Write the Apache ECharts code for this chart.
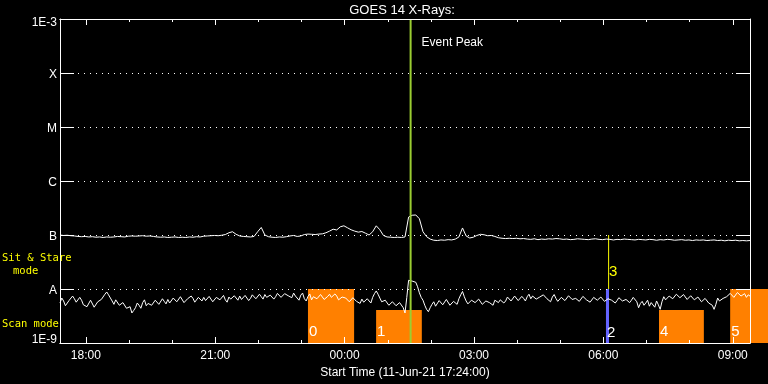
<!DOCTYPE html>
<html><head><meta charset="utf-8">
<script src="https://cdn.jsdelivr.net/npm/echarts@6/dist/echarts.min.js"></script>
<style>html,body{margin:0;padding:0;background:#000}#c{width:768px;height:384px}</style>
</head><body><div id="c"></div>
<script>
// ---------- DATA ----------
const chartTitle = 'GOES 14 X-Rays:';
const xAxisTitle = 'Start Time (11-Jun-21 17:24:00)';
const startHour = 17.4;      // 17:24 on 11-Jun
const endHour = 33.4;        // 09:24 on 12-Jun
const longStepMinutes = 5;
const shortStepMinutes = 2.5;
const xMajorTicks = [18, 21, 24, 27, 30, 33];
const xMinorTicks = [19, 20, 22, 23, 25, 26, 28, 29, 31, 32];
const yTickValues = [-9, -8, -7, -6, -5, -4, -3];           // log10 W/m^2
const yTickLabels = ['1E-9', 'A', 'B', 'C', 'M', 'X', '1E-3'];

// long channel (1-8 A), units of 1e-8 W/m^2, one value every 5 min from 17:24
const longChannel = [
 10.0, 9.8, 9.9, 9.7, 9.6, 9.4, 9.3, 9.4, 9.2, 9.3,
 9.1, 9.2, 9.0, 9.2, 9.1, 9.2, 9.4, 9.3, 9.2, 9.5,
 9.6, 9.5, 9.6, 9.7, 9.5, 9.6, 9.4, 9.2, 9.1, 9.2,
 9.0, 9.1, 9.2, 9.0, 9.1, 9.0, 9.2, 9.1, 9.3, 9.2,
 9.5, 9.6, 9.7, 9.8, 9.7, 9.9, 10.2, 11.0, 11.5, 10.3,
 9.6, 9.4, 9.3, 9.2, 9.4, 11.5, 13.8, 10.0, 9.3, 9.1,
 9.0, 9.2, 9.1, 9.3, 9.6, 9.8, 9.4, 9.6, 10.2, 10.4,
 10.3, 10.2, 10.4, 10.5, 11.0, 11.8, 12.8, 12.4, 14.2, 14.8,
 13.6, 12.5, 11.8, 11.3, 11.6, 10.8, 10.0, 11.5, 14.8, 12.5,
 9.8, 9.2, 9.1, 9.0, 9.1, 9.0, 9.2, 21.5, 23.2, 23.5,
 20.0, 11.5, 9.3, 8.4, 8.0, 7.9, 8.1, 8.0, 8.2, 8.1,
 8.4, 9.2, 13.5, 9.6, 8.8, 9.1, 9.8, 10.3, 10.1, 9.7,
 9.8, 9.4, 8.9, 8.7, 8.6, 8.7, 8.6, 8.7, 8.5, 8.6,
 8.4, 8.3, 8.5, 8.2, 8.4, 8.3, 8.5, 8.4, 8.6, 8.5,
 8.3, 8.4, 8.2, 8.3, 8.5, 8.4, 8.3, 8.2, 8.4, 8.5,
 8.3, 8.2, 8.4, 8.3, 8.1, 8.3, 8.2, 8.4, 8.3, 8.2,
 8.1, 8.3, 8.2, 8.1, 8.3, 8.2, 8.0, 8.2, 8.1, 8.3,
 8.2, 8.0, 8.1, 8.2, 8.0, 8.1, 7.9, 8.1, 8.0, 8.1,
 7.9, 8.0, 8.1, 7.9, 8.0, 7.8, 8.0, 7.9, 8.0, 7.8,
 7.9, 7.8, 7.9
];
// short channel (0.5-4 A), units of 1e-8 W/m^2, one value every 2.5 min from 17:24
const shortChannel = [
 0.55,0.68,0.60,0.49,0.52,0.61,0.63,0.74,0.66,0.57,0.58,0.70,0.62,0.51,0.54,0.47,0.50,0.62,0.57,0.46,
 0.48,0.58,0.55,0.64,0.66,0.80,0.88,0.78,0.72,0.60,0.52,0.63,0.58,0.50,0.47,0.56,0.53,0.44,0.42,0.47,
 0.36,0.40,0.45,0.55,0.50,0.44,0.56,0.63,0.49,0.54,0.58,0.50,0.53,0.62,0.61,0.52,0.55,0.66,0.59,0.53,
 0.64,0.55,0.57,0.68,0.66,0.58,0.60,0.72,0.69,0.56,0.58,0.66,0.63,0.74,0.67,0.57,0.59,0.70,0.65,0.60,
 0.70,0.61,0.62,0.73,0.68,0.58,0.61,0.70,0.72,0.63,0.66,0.76,0.63,0.57,0.71,0.65,0.64,0.75,0.69,0.62,
 0.74,0.64,0.65,0.76,0.70,0.61,0.67,0.78,0.76,0.66,0.68,0.80,0.72,0.65,0.79,0.70,0.66,0.77,0.73,0.65,
 0.72,0.83,0.80,0.70,0.74,0.82,0.86,0.75,0.78,0.69,0.84,0.74,0.70,0.62,0.77,0.84,0.66,0.60,0.73,0.81,
 0.63,0.72,0.78,0.66,0.68,0.79,0.75,0.64,0.64,0.73,0.80,0.70,0.69,0.81,0.74,0.63,0.62,0.71,0.77,0.68,
 0.67,0.58,0.61,0.69,0.70,0.59,0.60,0.54,0.65,0.57,0.58,0.66,0.63,0.55,0.70,0.82,0.92,0.80,0.68,0.58,
 0.55,0.62,0.60,0.50,0.52,0.58,0.57,0.49,0.50,0.56,0.54,0.45,0.36,0.70,1.45,1.48,1.40,1.42,1.33,1.10,
 0.85,0.70,0.62,0.50,0.42,0.38,0.45,0.52,0.58,0.48,0.52,0.61,0.60,0.51,0.55,0.64,0.62,0.50,0.53,0.59,
 0.58,0.52,0.66,0.78,0.90,0.72,0.60,0.53,0.55,0.62,0.63,0.56,0.57,0.65,0.61,0.52,0.54,0.60,0.64,0.56,
 0.58,0.50,0.62,0.57,0.56,0.63,0.65,0.55,0.60,0.71,0.68,0.60,0.62,0.74,0.70,0.61,0.64,0.73,0.67,0.60,
 0.72,0.80,0.66,0.74,0.74,0.65,0.63,0.71,0.69,0.78,0.75,0.66,0.64,0.58,0.71,0.79,0.67,0.59,0.62,0.70,
 0.70,0.61,0.65,0.75,0.73,0.64,0.60,0.67,0.68,0.59,0.64,0.73,0.72,0.63,0.66,0.57,0.61,0.70,0.69,0.62,
 0.63,0.71,0.67,0.59,0.58,0.66,0.70,0.62,0.64,0.55,0.61,0.69,0.68,0.60,0.57,0.64,0.65,0.56,0.62,0.70,
 0.70,0.58,0.45,0.54,0.59,0.50,0.55,0.62,0.48,0.56,0.52,0.46,0.60,0.51,0.42,0.58,0.72,0.63,0.64,0.74,
 0.75,0.66,0.68,0.80,0.78,0.69,0.70,0.79,0.73,0.64,0.66,0.75,0.72,0.63,0.64,0.71,0.69,0.58,0.60,0.67,
 0.66,0.55,0.56,0.50,0.42,0.52,0.68,0.60,0.59,0.67,0.64,0.72,0.74,0.83,0.80,0.70,0.72,0.86,0.84,0.74,
 0.76,0.82,0.70,0.78,0.74
];

const eventPeakHour = 25.53;
const eventPeakLabel = 'Event Peak';

// observation boxes: label, start hour, end hour, mode
const boxNames = ['0', '1', '2', '3', '4', '5'];
const boxStart = [23.15, 24.73, 30.06, 30.11, 31.29, 32.94];
const boxEnd   = [24.22, 25.79, 30.13, 30.11, 32.33, 33.90];
const boxMode  = ['sitstare', 'scan', 'sitstare2', 'line', 'scan', 'sitstare'];
const modeBottom = { sitstare: 1e-9, sitstare2: 1e-9, scan: 1e-9, line: 1e-8 };
const modeTop    = { sitstare: 1e-8, sitstare2: 1e-8, scan: 4.1e-9, line: 1e-7 };

const sideLabels = ['Sit & Stare', 'mode', 'Scan mode'];

// ---------- STYLE ----------
const FONT = 'Liberation Sans';
const MONO = 'DejaVu Sans Mono';
const modeStyle = {
  sitstare:  { color: '#ff8000', labelColor: '#ffffff', minW: 0, dy: 11 },
  sitstare2: { color: '#6464ff', labelColor: '#ffffff', minW: 3, dy: 10 },
  scan:      { color: '#ff8000', labelColor: '#ffffff', minW: 0, dy: 11 },
  line:      { color: '#ffff00', labelColor: '#ffff00', minW: 1, dy: 17 }
};

const longData = longChannel.map((v, i) => [startHour + i * longStepMinutes / 60, Math.log10(v * 1e-8)]);
const shortData = shortChannel.map((v, i) => [startHour + i * shortStepMinutes / 60, Math.log10(v * 1e-8)]);
const boxData = boxNames.map((n, i) => [boxStart[i], boxEnd[i], Math.log10(modeBottom[boxMode[i]]), Math.log10(modeTop[boxMode[i]])]);

function hhmm(v) { return String(Math.round(v) % 24).padStart(2, '0') + ':00'; }

function xAx(pos, values, len, showLabel) {
  return {
    type: 'value', position: pos, min: startHour, max: endHour,
    axisLine: { show: true, onZero: false, lineStyle: { color: '#fff', width: 1 } },
    axisTick: { show: true, inside: true, length: len, customValues: values, lineStyle: { color: '#fff', width: 1 } },
    axisLabel: { show: showLabel, customValues: values, formatter: hhmm, color: '#fff', fontFamily: FONT, fontSize: 12, margin: 7 },
    splitLine: { show: false },
    name: showLabel ? xAxisTitle : '', nameLocation: 'middle', nameGap: 19,
    nameTextStyle: { color: '#fff', fontFamily: FONT, fontSize: 12, verticalAlign: 'top' },
    z: 10
  };
}

const labelRich = {
  t: { color: '#fff', fontFamily: FONT, fontSize: 12, padding: [8, 0, 0, 0] },
  b: { color: '#fff', fontFamily: FONT, fontSize: 12, padding: [0, 0, 7, 0] },
  m: { color: '#fff', fontFamily: FONT, fontSize: 12, padding: [3, 0, 0, 0] }
};

const chart = echarts.init(document.getElementById('c'), null, { renderer: 'canvas' });
chart.setOption({
  backgroundColor: '#000',
  animation: false,
  grid: { left: 60, top: 19, right: 18, bottom: 41, containLabel: false },
  xAxis: [
    xAx('bottom', xMajorTicks, 6, true),
    xAx('bottom', xMinorTicks, 3, false),
    xAx('top', xMajorTicks, 6, false),
    xAx('top', xMinorTicks, 3, false)
  ],
  yAxis: [
    {
      type: 'value', position: 'left', min: -9, max: -3, interval: 1,
      axisLine: { show: true, lineStyle: { color: '#fff', width: 1 } },
      axisTick: { show: true, inside: true, length: 14, lineStyle: { color: '#fff', width: 1 } },
      axisLabel: {
        color: '#fff', fontFamily: FONT, fontSize: 12, margin: 3, rich: labelRich,
        formatter: v => {
          const k = yTickValues.indexOf(Math.round(v));
          const s = yTickLabels[k];
          if (k === yTickValues.length - 1) return '{t|' + s + '}';
          if (k === 0) return '{b|' + s + '}';
          return '{m|' + s + '}';
        }
      },
      splitLine: { show: true, lineStyle: { color: '#fff', width: 1, type: [1, 5] } },
      z: 10
    },
    {
      type: 'value', position: 'right', min: -9, max: -3, interval: 1,
      axisLine: { show: true, lineStyle: { color: '#fff', width: 1 } },
      axisTick: { show: true, inside: true, length: 14, lineStyle: { color: '#fff', width: 1 } },
      axisLabel: { show: false },
      splitLine: { show: false },
      z: 10
    }
  ],
  series: [
    {
      type: 'custom', name: 'boxes', xAxisIndex: 0, yAxisIndex: 0, clip: false, z: 1,
      data: boxData,
      renderItem: (params, api) => {
        const i = params.dataIndex;
        const st = modeStyle[boxMode[i]];
        const p0 = api.coord([api.value(0), api.value(3)]);
        const p1 = api.coord([api.value(1), api.value(2)]);
        const w = Math.max(p1[0] - p0[0], st.minW);
        return {
          type: 'group', children: [
            { type: 'rect', shape: { x: p0[0], y: p0[1], width: w, height: p1[1] - p0[1] }, style: { fill: st.color } },
            { type: 'text', x: p0[0] + 1, y: p1[1] - st.dy, z2: 5,
              style: { text: boxNames[i], fill: st.labelColor, fontFamily: FONT, fontSize: 15, align: 'left', verticalAlign: 'middle' } }
          ]
        };
      }
    },
    {
      type: 'line', name: 'long', data: longData, xAxisIndex: 0, yAxisIndex: 0, symbol: 'none', z: 3,
      lineStyle: { color: '#fff', width: 1 }
    },
    {
      type: 'line', name: 'short', data: shortData, xAxisIndex: 0, yAxisIndex: 0, symbol: 'none', z: 3,
      lineStyle: { color: '#fff', width: 1 }
    },
    {
      type: 'custom', name: 'event', xAxisIndex: 0, yAxisIndex: 0, z: 6, clip: false,
      data: [[eventPeakHour, -3]],
      renderItem: (params, api) => {
        const cs = params.coordSys;
        const p = api.coord([api.value(0), api.value(1)]);
        return {
          type: 'group', children: [
            { type: 'line', shape: { x1: p[0], y1: cs.y, x2: p[0], y2: cs.y + cs.height }, style: { stroke: '#9acd32', lineWidth: 2 } },
            { type: 'text', x: p[0] + 11, y: cs.y + 24,
              style: { text: eventPeakLabel, fill: '#fff', fontFamily: FONT, fontSize: 12, align: 'left', verticalAlign: 'middle' } }
          ]
        };
      }
    }
  ],
  graphic: [
    { type: 'text', x: 402, y: 10, style: { text: chartTitle, fill: '#fff', fontFamily: FONT, fontSize: 13, align: 'center', verticalAlign: 'middle' } },
    { type: 'text', x: 2, y: 258, z: 20, style: { text: sideLabels[0], fill: '#ffff00', fontFamily: MONO, fontSize: 10.5, align: 'left', verticalAlign: 'middle' } },
    { type: 'text', x: 13, y: 271, z: 20, style: { text: sideLabels[1], fill: '#ffff00', fontFamily: MONO, fontSize: 10.5, align: 'left', verticalAlign: 'middle' } },
    { type: 'text', x: 2, y: 324, z: 20, style: { text: sideLabels[2], fill: '#ffff00', fontFamily: MONO, fontSize: 10.5, align: 'left', verticalAlign: 'middle' } }
  ]
});
</script>
</body></html>
